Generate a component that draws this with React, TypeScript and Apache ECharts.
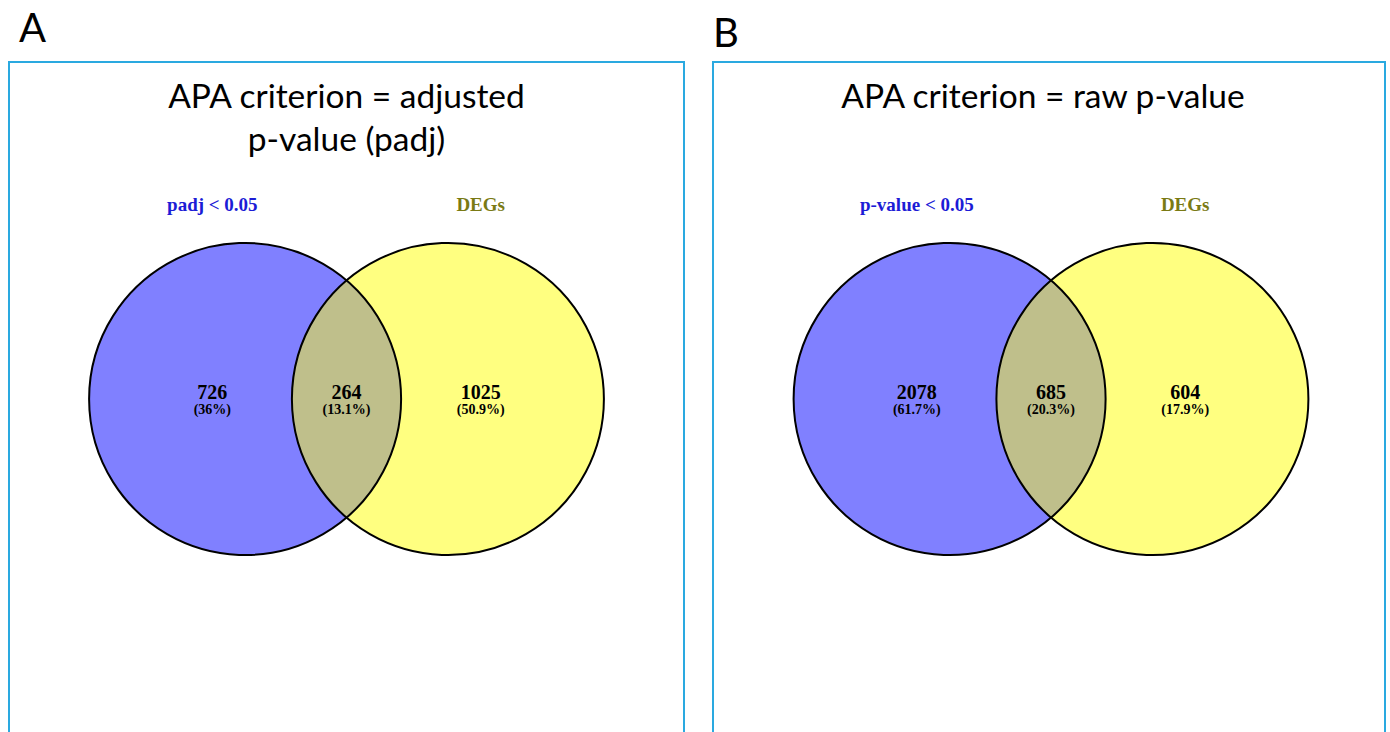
import React, { useEffect, useRef } from "react";
import * as echarts from "echarts";

// Two-set Venn diagrams: APA genes vs. differentially expressed genes
const panelLetters = ["A", "B"];
const titlesA = ["APA criterion = adjusted", "p-value (padj)"];
const titlesB = ["APA criterion = raw p-value"];
const setNamesA = ["padj < 0.05", "DEGs"];
const setNamesB = ["p-value < 0.05", "DEGs"];
// region counts: [left only, overlap, right only]
const countsA = [726, 264, 1025];
const countsB = [2078, 685, 604];

const R = 1; // circle radius in axis units
const D = 0.65; // half distance between circle centres
const LABEL_X = 0.86;

const BLUE_FILL = "#8080ff";
const YELLOW_FILL = "#ffff80";
const OVERLAP_FILL = "#bfbf8b";
const SET_COLORS = ["#1c1cd6", "#7a7a14"];
const BOX_COLOR = "#2aa9e0";

function pct(n: number, total: number): string {
  const v = (n / total) * 100;
  const s = v.toFixed(1);
  return s.endsWith(".0") ? s.slice(0, -2) : s;
}

function vennSeries(idx: number, names: string[], counts: number[]) {
  const total = counts.reduce((a, b) => a + b, 0);
  const circles = {
    type: "custom",
    xAxisIndex: idx,
    yAxisIndex: idx,
    silent: true,
    data: [[-D, D]],
    renderItem: (_p: any, api: any) => {
      const cL = api.coord([api.value(0), 0]);
      const cR = api.coord([api.value(1), 0]);
      const r = api.size([R, 0])[0];
      const cy = cL[1];
      const mx = (cL[0] + cR[0]) / 2;
      const half = (cR[0] - cL[0]) / 2;
      const h = Math.sqrt(r * r - half * half);
      const lens = `M ${mx} ${cy - h} A ${r} ${r} 0 0 1 ${mx} ${cy + h} A ${r} ${r} 0 0 1 ${mx} ${cy - h} Z`;
      return {
        type: "group",
        children: [
          { type: "circle", shape: { cx: cL[0], cy, r }, style: { fill: BLUE_FILL, stroke: "none" } },
          { type: "circle", shape: { cx: cR[0], cy, r }, style: { fill: YELLOW_FILL, stroke: "none" } },
          { type: "path", shape: { pathData: lens }, style: { fill: OVERLAP_FILL, stroke: "none" } },
          { type: "circle", shape: { cx: cL[0], cy, r }, style: { fill: "none", stroke: "#000", lineWidth: 2 } },
          { type: "circle", shape: { cx: cR[0], cy, r }, style: { fill: "none", stroke: "#000", lineWidth: 2 } },
        ],
      };
    },
  };
  const regionX = [-LABEL_X, 0, LABEL_X];
  const regions = {
    type: "scatter",
    xAxisIndex: idx,
    yAxisIndex: idx,
    symbolSize: 0,
    silent: true,
    itemStyle: { opacity: 1 },
    data: counts.map((c, i) => ({ value: [regionX[i], 0.0], count: c, p: pct(c, total) })),
    label: {
      show: true,
      position: "inside",
      opacity: 1,
      formatter: (p: any) => `{n|${p.data.count}}\n{p|(${p.data.p}%)}`,
      rich: {
        n: { fontFamily: "Liberation Serif", fontWeight: "bold", fontSize: 20, color: "#000", lineHeight: 20 },
        p: { fontFamily: "Liberation Serif", fontWeight: "bold", fontSize: 14, color: "#000", lineHeight: 14 },
      },
    },
  };
  const setLabels = {
    type: "scatter",
    xAxisIndex: idx,
    yAxisIndex: idx,
    symbolSize: 0,
    silent: true,
    itemStyle: { opacity: 1 },
    data: names.map((n, i) => ({
      value: [i === 0 ? -LABEL_X : LABEL_X, 1.25],
      name: n,
      label: { color: SET_COLORS[i] },
    })),
    label: {
      show: true,
      position: "inside",
      opacity: 1,
      formatter: (p: any) => p.name,
      fontFamily: "Liberation Serif",
      fontWeight: "bold",
      fontSize: 19,
    },
  };
  return [circles, regions, setLabels];
}

export default function App() {
  const ref = useRef<HTMLDivElement>(null);
  useEffect(() => {
    if (!ref.current) return;
    const chart = echarts.init(ref.current, undefined, { renderer: "svg" });
    const unit = 156; // px per axis unit
    const venns = [
      { cx: 346.5, cy: 399 },
      { cx: 1051, cy: 399 },
    ];
    const grids = venns.map((v) => ({
      left: v.cx - 2 * unit,
      top: v.cy - 2 * unit,
      width: 4 * unit,
      height: 4 * unit,
      containLabel: false,
    }));
    const axisCommon = { type: "value", min: -2, max: 2, show: false };
    const titleStyle = { fontFamily: "Lato", fontSize: 33.5, fill: "#000", textAlign: "center", textVerticalAlign: "middle" };
    chart.setOption({
      animation: false,
      backgroundColor: "#fff",
      grid: grids,
      xAxis: grids.map((_, i) => ({ ...axisCommon, gridIndex: i })),
      yAxis: grids.map((_, i) => ({ ...axisCommon, gridIndex: i })),
      series: [...vennSeries(0, setNamesA, countsA), ...vennSeries(1, setNamesB, countsB)],
      graphic: [
        { type: "rect", shape: { x: 9, y: 62, width: 675, height: 700 }, style: { fill: "none", stroke: BOX_COLOR, lineWidth: 2 }, z: -1 },
        { type: "rect", shape: { x: 713, y: 62, width: 672, height: 700 }, style: { fill: "none", stroke: BOX_COLOR, lineWidth: 2 }, z: -1 },
        { type: "text", x: 19, y: 27, style: { text: panelLetters[0], fontFamily: "Lato", fontSize: 40, fill: "#000", textVerticalAlign: "middle" } },
        { type: "text", x: 713, y: 32, style: { text: panelLetters[1], fontFamily: "Lato", fontSize: 40, fill: "#000", textVerticalAlign: "middle" } },
        { type: "text", x: 346.5, y: 95, style: { ...titleStyle, text: titlesA[0] } },
        { type: "text", x: 346.5, y: 138, style: { ...titleStyle, text: titlesA[1] } },
        { type: "text", x: 1043, y: 95, style: { ...titleStyle, text: titlesB[0] } },
      ],
    });
    return () => chart.dispose();
  }, []);
  return <div ref={ref} style={{ position: "absolute", left: 0, top: 0, width: 1390, height: 732 }} />;
}
